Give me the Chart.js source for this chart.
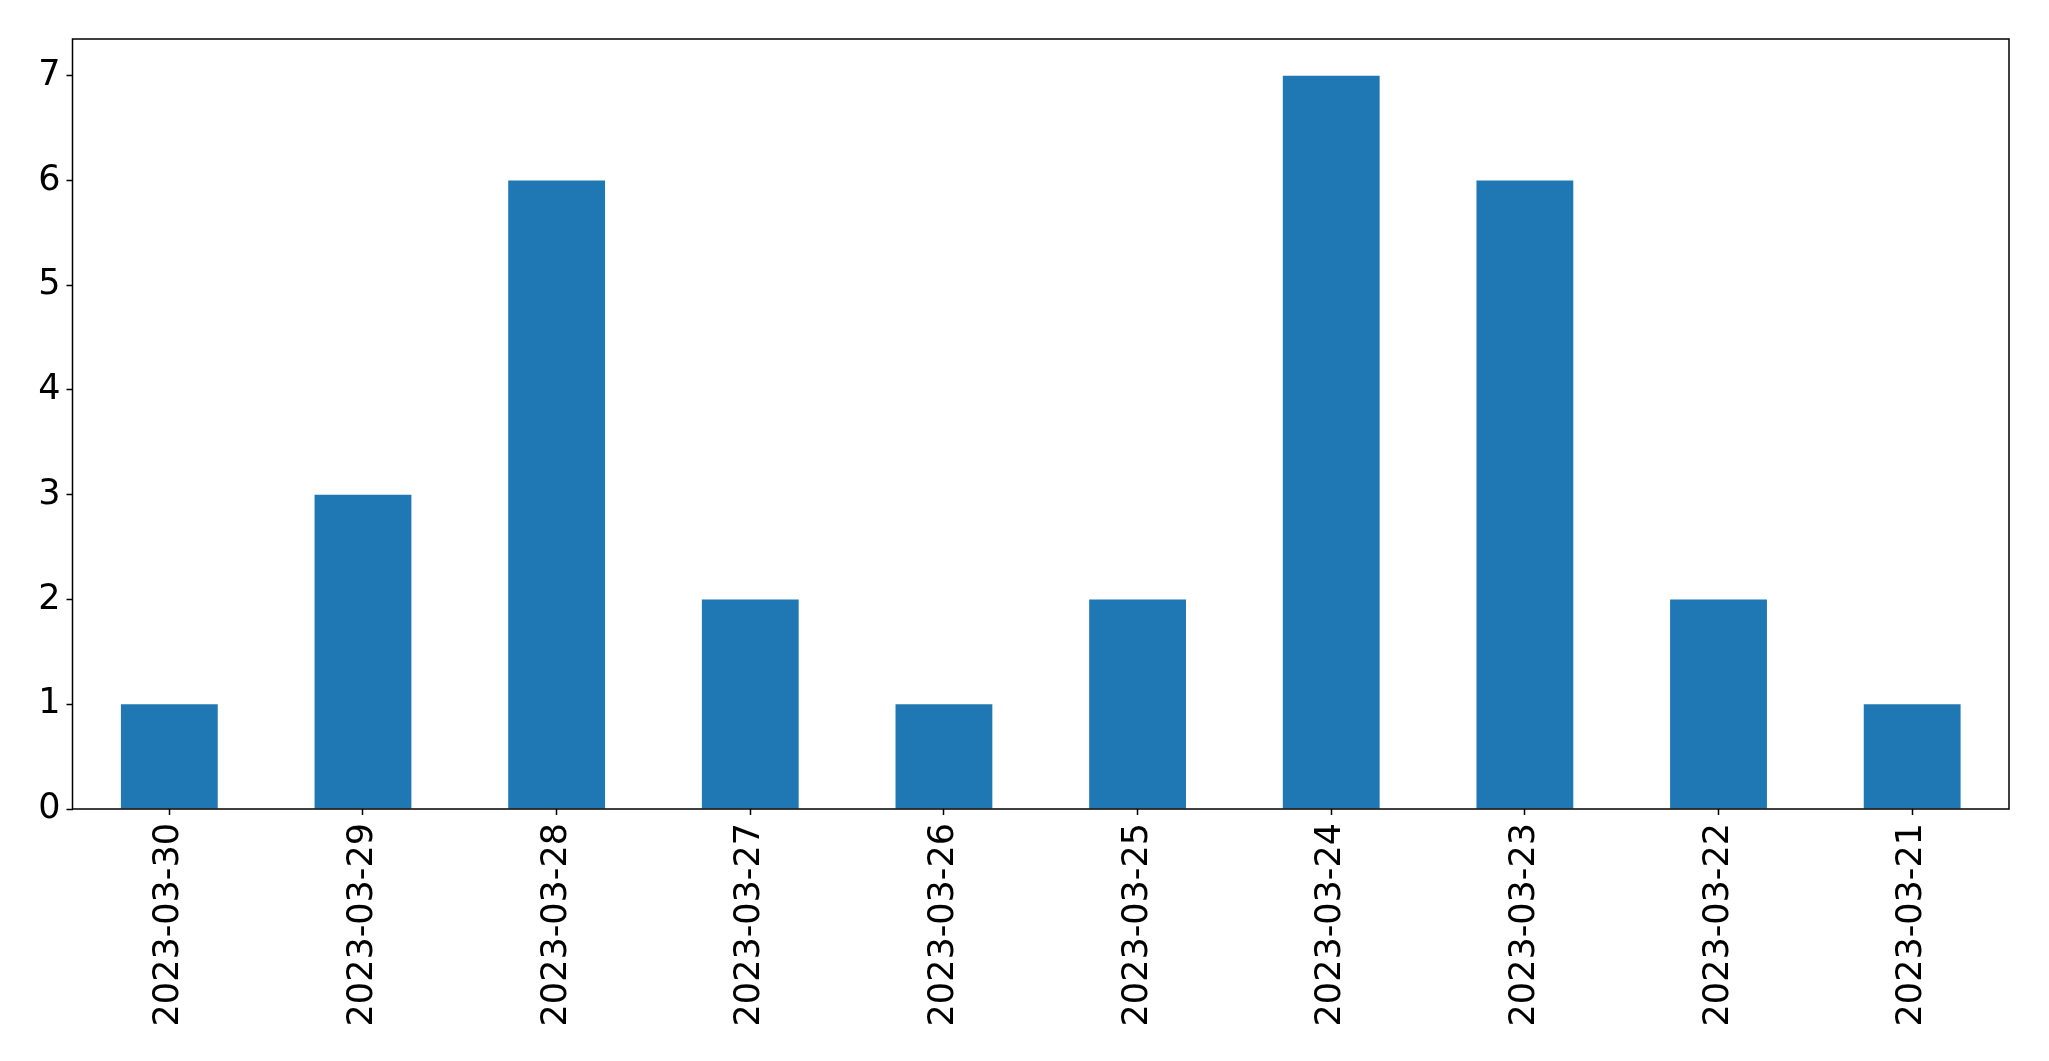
<!DOCTYPE html>
<html>
<head>
<meta charset="utf-8">
<script src="https://cdn.jsdelivr.net/npm/chart.js@4/dist/chart.umd.min.js"></script>
<style>
  html, body { margin: 0; padding: 0; background: #fff; }
  #wrap { width: 2049px; height: 1061px; }
</style>
</head>
<body>
<div id="wrap"><canvas id="chart" width="2049" height="1061"></canvas></div>
<script>
const dates = ['2023-03-30', '2023-03-29', '2023-03-28', '2023-03-27', '2023-03-26',
               '2023-03-25', '2023-03-24', '2023-03-23', '2023-03-22', '2023-03-21'];
const counts = [1, 3, 6, 2, 1, 2, 7, 6, 2, 1];
const yTicks = [0, 1, 2, 3, 4, 5, 6, 7];

// frame round the plot area, like matplotlib's spines
const frame = {
    id: 'frame',
    afterDraw(chart) {
        const a = chart.chartArea;
        const ctx = chart.ctx;
        ctx.save();
        ctx.strokeStyle = '#000';
        ctx.lineWidth = 1.5;
        ctx.strokeRect(a.left, a.top, a.right - a.left, a.bottom - a.top);
        ctx.restore();
    }
};

const tickFont = { family: 'DejaVu Sans', size: 35 };

new Chart(document.getElementById('chart'), {
    type: 'bar',
    data: {
        labels: dates,
        datasets: [{
            data: counts,
            backgroundColor: '#1f77b4',
            borderWidth: 0,
            barPercentage: 0.5,
            categoryPercentage: 1.0
        }]
    },
    options: {
        responsive: false,
        animation: false,
        layout: { padding: { top: 39, right: 40, left: 0, bottom: 0 } },
        plugins: { legend: { display: false }, tooltip: { enabled: false } },
        scales: {
            x: {
                offset: true,
                grid: { display: true, drawOnChartArea: false, offset: false, tickLength: 6, tickColor: '#000', tickWidth: 1.5 },
                border: { display: false },
                ticks: { color: '#000', font: tickFont, minRotation: 90, maxRotation: 90, autoSkip: false, padding: 8 },
                afterFit(scale) { scale.height = 252; }
            },
            y: {
                min: 0,
                max: 7.35,
                afterBuildTicks(scale) { scale.ticks = yTicks.map(v => ({ value: v })); },
                grid: { display: true, drawOnChartArea: false, tickLength: 6, tickColor: '#000', tickWidth: 1.5 },
                border: { display: false },
                ticks: { color: '#000', font: tickFont, padding: 6 },
                afterFit(scale) { scale.width = 72.5; }
            }
        }
    },
    plugins: [frame]
});
</script>
</body>
</html>
